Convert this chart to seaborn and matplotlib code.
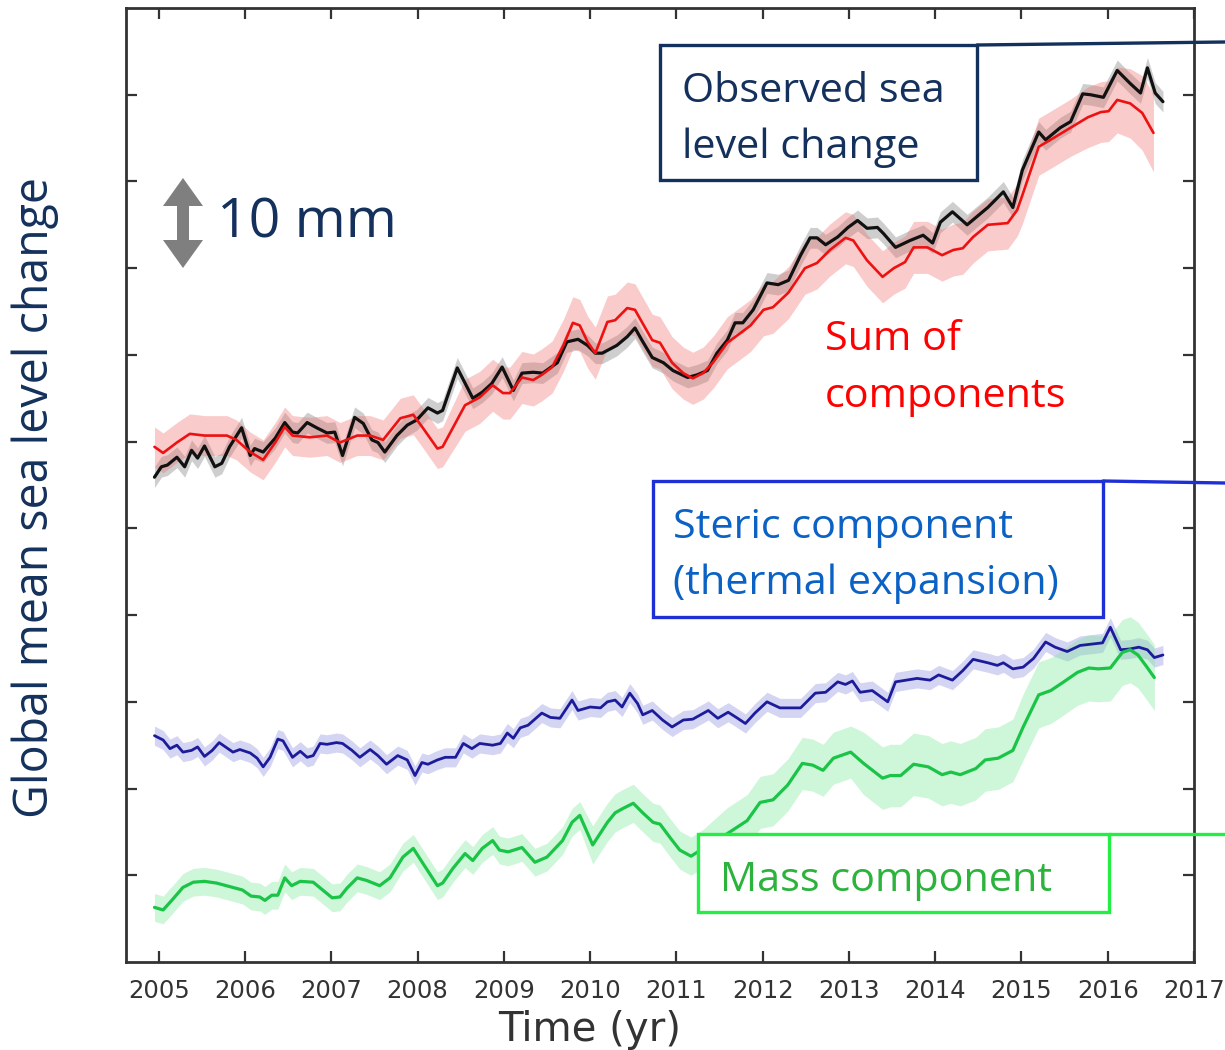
import matplotlib
matplotlib.use("Agg")
import matplotlib.pyplot as plt
import seaborn as sns
import numpy as np
from matplotlib.patches import Rectangle, Polygon
from matplotlib.lines import Line2D

# observed GMSL (mm), black
obs_t = [2004.95, 2005.03, 2005.10, 2005.21, 2005.30, 2005.38, 2005.45, 2005.53, 2005.65, 2005.73,
         2005.82, 2005.96, 2006.06, 2006.11, 2006.21, 2006.35, 2006.46, 2006.55, 2006.61, 2006.72,
         2006.83, 2006.95, 2007.04, 2007.13, 2007.27, 2007.37, 2007.47, 2007.54, 2007.62, 2007.76,
         2007.88, 2007.99, 2008.12, 2008.23, 2008.29, 2008.46, 2008.64, 2008.75, 2008.86, 2008.98,
         2009.11, 2009.21, 2009.34, 2009.45, 2009.62, 2009.73, 2009.86, 2009.97, 2010.06, 2010.14,
         2010.31, 2010.43, 2010.52, 2010.60, 2010.72, 2010.85, 2010.96, 2011.13, 2011.24, 2011.36,
         2011.47, 2011.59, 2011.68, 2011.77, 2011.89, 2012.05, 2012.18, 2012.30, 2012.44, 2012.55,
         2012.63, 2012.73, 2012.87, 2012.99, 2013.10, 2013.21, 2013.33, 2013.40, 2013.54, 2013.71,
         2013.86, 2013.97, 2014.06, 2014.20, 2014.37, 2014.61, 2014.79, 2014.90, 2015.01, 2015.20,
         2015.28, 2015.45, 2015.57, 2015.71, 2015.80, 2015.95, 2016.11, 2016.26, 2016.38, 2016.46,
         2016.55, 2016.64]
obs_mm = [45.9, 47.1, 47.3, 48.2, 47.1, 49.0, 48.1, 49.5, 47.1, 47.5,
          49.4, 51.6, 48.4, 49.2, 48.8, 50.4, 52.2, 51.1, 51.0, 52.2,
          51.6, 51.0, 51.1, 48.4, 52.8, 52.1, 50.2, 49.9, 48.8, 50.7,
          51.9, 52.5, 53.9, 53.3, 53.6, 58.5, 55.0, 55.7, 56.7, 58.6,
          55.9, 57.9, 58.0, 57.9, 59.1, 61.5, 61.8, 61.1, 60.2, 60.2,
          61.1, 62.1, 63.1, 61.7, 59.7, 59.1, 58.2, 57.4, 57.7, 58.2,
          60.2, 61.7, 63.7, 63.7, 65.2, 68.3, 68.1, 68.6, 71.5, 73.5,
          73.5, 72.7, 73.6, 74.7, 75.5, 74.6, 74.7, 74.0, 72.4, 73.2,
          73.8, 72.9, 75.3, 76.5, 75.0, 77.0, 78.8, 77.0, 81.3, 85.7,
          84.8, 86.2, 86.9, 90.1, 90.0, 89.7, 92.8, 91.3, 90.2, 93.1,
          90.2, 89.2]
obs_err = 1.2

# sum of components, red
sum_t = [2004.95, 2005.05, 2005.21, 2005.36, 2005.53, 2005.79, 2005.90, 2006.06, 2006.21, 2006.35,
         2006.46, 2006.55, 2006.75, 2006.95, 2007.10, 2007.30, 2007.45, 2007.60, 2007.80, 2007.95,
         2008.06, 2008.23, 2008.29, 2008.55, 2008.72, 2008.87, 2008.99, 2009.07, 2009.21, 2009.34,
         2009.44, 2009.56, 2009.69, 2009.80, 2009.88, 2009.97, 2010.06, 2010.20, 2010.29, 2010.43,
         2010.52, 2010.60, 2010.72, 2010.81, 2010.95, 2011.08, 2011.19, 2011.31, 2011.43, 2011.59,
         2011.74, 2011.86, 2012.01, 2012.12, 2012.30, 2012.49, 2012.63, 2012.78, 2012.96, 2013.05,
         2013.21, 2013.39, 2013.52, 2013.65, 2013.75, 2013.91, 2014.08, 2014.21, 2014.32, 2014.44,
         2014.61, 2014.84, 2014.95, 2015.01, 2015.20, 2015.37, 2015.57, 2015.77, 2015.92, 2016.01,
         2016.11, 2016.26, 2016.40, 2016.53]
sum_mm = [49.4, 48.7, 49.9, 50.9, 50.7, 50.7, 50.2, 48.8, 47.9, 49.9,
          51.7, 50.7, 50.5, 50.7, 49.9, 50.7, 50.7, 50.2, 52.7, 53.1,
          51.6, 49.2, 49.4, 54.2, 55.1, 56.5, 55.6, 55.6, 57.4, 57.1,
          57.7, 58.6, 61.1, 63.7, 63.4, 61.5, 60.2, 63.8, 64.0, 65.4,
          65.2, 63.8, 61.7, 61.4, 59.1, 57.9, 57.3, 57.9, 59.2, 61.4,
          62.5, 63.4, 65.2, 65.5, 67.2, 70.0, 70.6, 72.1, 73.5, 73.2,
          70.9, 69.0, 70.0, 70.7, 72.4, 72.4, 71.5, 72.1, 72.3, 73.6,
          75.0, 75.2, 76.7, 78.4, 84.0, 85.0, 86.2, 87.4, 88.0, 88.1,
          89.4, 89.0, 87.9, 85.6]
sum_err = [2.3] * 23 + [3.0] * 50 + [3.3, 3.3, 3.3, 3.3, 3.5, 3.5, 3.5, 3.8, 4.0, 4.3, 4.5]

# steric component, blue
ste_t = [2004.95, 2005.05, 2005.13, 2005.21, 2005.28, 2005.38, 2005.45, 2005.53, 2005.62, 2005.70,
         2005.86, 2005.94, 2006.06, 2006.14, 2006.21, 2006.29, 2006.38, 2006.44, 2006.55, 2006.64,
         2006.72, 2006.79, 2006.87, 2006.95, 2007.06, 2007.13, 2007.24, 2007.33, 2007.45, 2007.54,
         2007.64, 2007.77, 2007.88, 2007.97, 2008.05, 2008.12, 2008.23, 2008.32, 2008.44, 2008.53,
         2008.63, 2008.72, 2008.87, 2008.96, 2009.04, 2009.11, 2009.19, 2009.28, 2009.44, 2009.54,
         2009.65, 2009.79, 2009.86, 2010.00, 2010.12, 2010.20, 2010.29, 2010.37, 2010.46, 2010.55,
         2010.61, 2010.72, 2010.84, 2010.95, 2011.08, 2011.19, 2011.37, 2011.48, 2011.60, 2011.71,
         2011.80, 2011.91, 2012.05, 2012.20, 2012.44, 2012.61, 2012.73, 2012.87, 2012.96, 2013.04,
         2013.13, 2013.27, 2013.45, 2013.54, 2013.79, 2013.94, 2014.04, 2014.20, 2014.32, 2014.44,
         2014.61, 2014.72, 2014.79, 2014.90, 2015.02, 2015.14, 2015.28, 2015.39, 2015.53, 2015.68,
         2015.94, 2016.03, 2016.15, 2016.26, 2016.36, 2016.46, 2016.54, 2016.64]
ste_mm = [16.1, 15.6, 14.6, 15.0, 14.2, 14.4, 14.8, 13.7, 14.4, 15.3,
          14.2, 14.5, 14.1, 13.5, 12.5, 13.6, 15.7, 15.5, 13.6, 14.3,
          13.6, 13.8, 15.2, 15.1, 15.3, 15.2, 14.4, 13.6, 14.5, 13.8,
          12.8, 13.8, 13.3, 11.5, 13.0, 12.8, 13.3, 13.6, 13.6, 15.2,
          14.6, 15.2, 15.0, 15.2, 16.4, 15.8, 17.0, 17.3, 18.7, 18.2,
          18.1, 20.2, 19.0, 19.4, 19.3, 20.0, 20.2, 19.4, 21.0, 19.8,
          18.5, 19.0, 17.9, 17.1, 17.9, 18.0, 19.0, 18.1, 18.8, 18.1,
          17.5, 18.7, 20.0, 19.3, 19.3, 21.0, 21.1, 22.3, 22.0, 22.4,
          21.1, 21.3, 20.0, 22.3, 22.7, 22.5, 23.1, 22.5, 23.6, 24.9,
          24.5, 24.2, 24.5, 23.8, 24.0, 25.0, 26.9, 26.3, 25.8, 26.5,
          26.8, 28.6, 26.0, 26.1, 26.3, 26.0, 25.1, 25.4]
ste_err = 1.1

# mass component, green
mas_t = [2004.95, 2005.05, 2005.15, 2005.28, 2005.40, 2005.53, 2005.67, 2005.82, 2005.97, 2006.07,
         2006.17, 2006.23, 2006.31, 2006.38, 2006.46, 2006.54, 2006.64, 2006.79, 2006.90, 2007.01,
         2007.10, 2007.18, 2007.30, 2007.41, 2007.56, 2007.68, 2007.83, 2007.95, 2008.06, 2008.23,
         2008.29, 2008.41, 2008.55, 2008.64, 2008.75, 2008.87, 2008.95, 2009.05, 2009.21, 2009.36,
         2009.50, 2009.68, 2009.79, 2009.88, 2010.03, 2010.20, 2010.29, 2010.38, 2010.50, 2010.61,
         2010.73, 2010.81, 2010.93, 2011.04, 2011.17, 2011.31, 2011.59, 2011.82, 2011.97, 2012.12,
         2012.29, 2012.46, 2012.58, 2012.70, 2012.82, 2013.02, 2013.17, 2013.39, 2013.48, 2013.60,
         2013.75, 2013.92, 2014.08, 2014.18, 2014.29, 2014.47, 2014.58, 2014.73, 2014.90, 2015.02,
         2015.20, 2015.34, 2015.49, 2015.65, 2015.78, 2015.89, 2016.03, 2016.17, 2016.26, 2016.35,
         2016.44, 2016.54]
mas_mm = [-3.7, -4.0, -2.9, -1.4, -0.8, -0.7, -0.9, -1.3, -1.7, -2.4,
          -2.5, -2.9, -2.3, -2.3, -0.3, -1.2, -0.7, -0.8, -1.7, -2.6,
          -2.5, -1.5, -0.3, -0.6, -1.2, -0.3, 2.1, 3.1, 1.4, -1.2,
          -0.9, 0.8, 2.5, 1.7, 3.1, 4.0, 2.9, 2.7, 3.2, 1.5,
          2.1, 4.0, 6.1, 6.9, 3.5, 6.1, 7.2, 7.7, 8.3, 7.2,
          6.1, 5.9, 4.3, 2.9, 2.2, 3.1, 4.8, 6.3, 8.4, 8.7,
          10.4, 12.9, 12.7, 12.1, 13.5, 14.2, 12.9, 11.2, 11.5, 11.5,
          12.8, 12.5, 11.6, 11.9, 11.6, 12.3, 13.3, 13.5, 14.4, 17.1,
          20.8, 21.3, 22.3, 23.4, 23.9, 23.8, 23.9, 25.7, 26.0, 25.4,
          24.2, 22.8]
mas_err = [1.6] * 44 + [2.2] * 12 + [3.0] * 10 + [3.6] * 13 + [3.8] * 13

year_ticks = list(range(2005, 2018))
mm_ticks = [0, 10, 20, 30, 40, 50, 60, 70, 80, 90]

W, H = 1225, 1050
def fx(px):
    return px / W
def fy(py):
    return 1 - py / H

sns.set_style("ticks")
plt.rcParams['font.family'] = ['DejaVu Sans']

navy = '#13315c'
fig = plt.figure(figsize=(W / 100, H / 100), dpi=100)
ax = fig.add_axes([fx(126), fy(962), (1194 - 126) / W, (962 - 8) / H])

series = [
    (obs_t, obs_mm, obs_err, '#111111', '#8c8c8c', 0.42, 2.3),
    (sum_t, sum_mm, sum_err, '#ee1111', '#ef7070', 0.36, 1.9),
    (ste_t, ste_mm, ste_err, '#1c1c9a', '#8f8fe0', 0.38, 2.0),
    (mas_t, mas_mm, mas_err, '#19c447', '#7ee89a', 0.38, 2.3),
]
for t, v, e, lc, bc, a, lw in series:
    v_arr = np.array(v)
    ax.fill_between(t, v_arr - e, v_arr + e, color=bc, alpha=a, lw=0)
for t, v, e, lc, bc, a, lw in series:
    sns.lineplot(x=t, y=v, ax=ax, color=lc, linewidth=lw, errorbar=None, sort=False)

ax.set_xlim(2004.62, 2017.0)
ax.set_ylim(-10, 100)
ax.set_xticks(year_ticks)
ax.set_yticks(mm_ticks)
ax.set_yticklabels([])
ax.tick_params(axis='both', direction='in', length=8, width=1.6, color='#333333',
               top=True, right=True)
ax.tick_params(axis='x', labelsize=17.5, labelcolor='#333333', pad=12)
for s in ax.spines.values():
    s.set_color('#333333')
    s.set_linewidth(2.0)
ax.set_xlabel('Time (yr)', fontsize=29, color='#333333')
ax.xaxis.set_label_coords((590 - 126) / 1068, -0.05)
ax.set_ylabel('')

sans = ['Open Sans', 'DejaVu Sans']
fig.text(fx(35), fy(497), 'Global mean sea level change', rotation=90, ha='center', va='center',
         fontsize=33.5, color=navy, family=sans)

# 10 mm scale arrow
cx, top, bot, hw, hl, sw = 183, 178, 268, 20, 28, 6
arrow = Polygon([(fx(cx), fy(top)), (fx(cx + hw), fy(top + hl)), (fx(cx + sw), fy(top + hl)),
                 (fx(cx + sw), fy(bot - hl)), (fx(cx + hw), fy(bot - hl)), (fx(cx), fy(bot)),
                 (fx(cx - hw), fy(bot - hl)), (fx(cx - sw), fy(bot - hl)), (fx(cx - sw), fy(top + hl)),
                 (fx(cx - hw), fy(top + hl))], closed=True, transform=fig.transFigure,
                fc='#7f7f7f', ec='none', zorder=6)
fig.add_artist(arrow)
fig.text(fx(217), fy(238), '10 mm', ha='left', va='baseline', fontsize=39.8, color=navy, family=sans)

# label boxes with leader lines
boxes = [
    ((660, 45, 977, 180), navy, navy, ['Observed sea', 'level change'], [102, 158], 682, 42),
    ((653, 481, 1103, 617), '#1f2fd6', '#0b62c4', ['Steric component', '(thermal expansion)'], [538, 594], 673, 483),
    ((698, 834, 1109, 912), '#22ee44', '#2bb33c', ['Mass component'], [891], 720, 834),
]
for (x0, y0, x1, y1), ec, tc, lines, bases, tx, lead_y in boxes:
    fig.add_artist(Rectangle((fx(x0), fy(y1)), (x1 - x0) / W, (y1 - y0) / H, transform=fig.transFigure,
                             fc='white', ec=ec, lw=2.4, zorder=5))
    fig.add_artist(Line2D([fx(x1), fx(1225)], [fy(y0), fy(lead_y)], transform=fig.transFigure,
                          color=ec, lw=2.4, zorder=5))
    for txt, b in zip(lines, bases):
        fig.text(fx(tx), fy(b), txt, ha='left', va='baseline', fontsize=29.8, color=tc,
                 family=sans, zorder=7)

fig.text(fx(825), fy(350), 'Sum of', ha='left', va='baseline', fontsize=29.8, color='#ff0000', family=sans)
fig.text(fx(825), fy(407), 'components', ha='left', va='baseline', fontsize=29.8, color='#ff0000', family=sans)

fig.savefig('out.png', dpi=100, facecolor='white')
